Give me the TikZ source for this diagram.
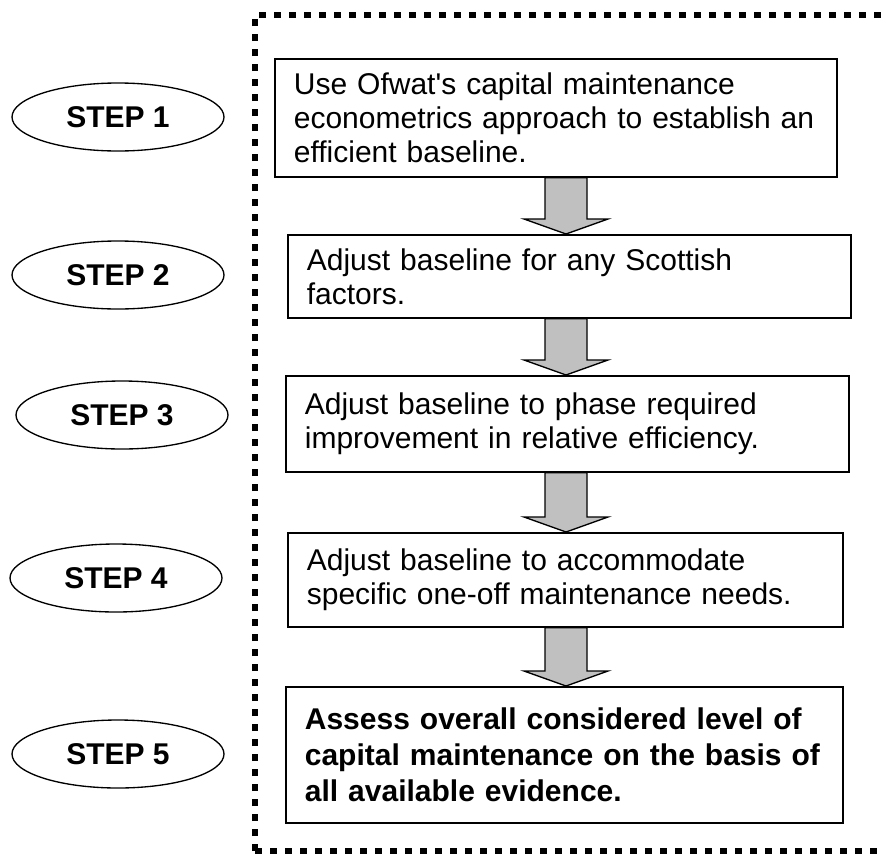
\documentclass[tikz,border=0pt]{standalone}
\usepackage{fontspec}
\setmainfont{Liberation Sans}
\usetikzlibrary{shapes.geometric,calc}

\begin{document}
\begin{tikzpicture}[x=0.75pt, y=-0.75pt,
  stepoval/.style={draw, line width=1pt, ellipse, minimum width=159pt, minimum height=51pt,
    font=\bfseries\fontsize{22.5}{25.5}\selectfont},
  taskbox/.style={draw, line width=1.3pt, anchor=north west, inner xsep=0pt, align=left,
    font=\fontsize{22.5}{25.5}\selectfont},
  downarrow/.style={draw, line width=1pt, fill={rgb,255:red,192;green,192;blue,192}, line join=miter}]
\useasboundingbox (0,0) rectangle (881,857);
\clip (0,0) rectangle (881,857);
% dotted frame round the steps
\draw[line width=4.9pt, dash pattern=on 5.25pt off 6pt] (255,851) -- (255,15) -- (900,15);
\draw[line width=4.9pt, dash pattern=on 5.25pt off 6pt] (255,851) -- (900,851);
% step labels
\node[stepoval] (s1) at (118,117) {STEP 1};
\node[stepoval] (s2) at (118,275) {STEP 2};
\node[stepoval] (s3) at (122,415) {STEP 3};
\node[stepoval] (s4) at (116,578) {STEP 4};
\node[stepoval] (s5) at (118,754) {STEP 5};
% boxes
\node[taskbox, minimum width=421.5pt, minimum height=88.5pt, text width=393pt] (b1) at (274,58)
  {Use Ofwat\textquotesingle s capital maintenance\\econometrics approach to establish an\\efficient baseline.};
\node[taskbox, minimum width=422.25pt, minimum height=62.25pt, text width=393.75pt] (b2) at (287,234)
  {Adjust baseline for any Scottish\\factors.};
\node[taskbox, minimum width=422.25pt, minimum height=72pt, text width=393.75pt] (b3) at (285,375)
  {Adjust baseline to phase required\\improvement in relative efficiency.};
\node[taskbox, minimum width=416.25pt, minimum height=70.5pt, text width=387.75pt] (b4) at (287,532)
  {Adjust baseline to accommodate\\specific one-off maintenance needs.};
\node[taskbox, minimum width=417.75pt, minimum height=102pt, text width=389.25pt,
  font=\bfseries\fontsize{22.5}{27}\selectfont] (b5) at (285,686)
  {Assess overall considered level of\\capital maintenance on the basis of\\all available evidence.};
% block arrows between the boxes
\coordinate (ax) at (566,0);
\foreach \a/\b in {b1/b2, b2/b3, b3/b4, b4/b5}
  \draw[downarrow] ($(\a.south -| ax)+(-21,0)$) -- ($(\b.north -| ax)+(-21,-15)$)
    -- ($(\b.north -| ax)+(-42,-15)$) -- (\b.north -| ax) -- ($(\b.north -| ax)+(42,-15)$)
    -- ($(\b.north -| ax)+(21,-15)$) -- ($(\a.south -| ax)+(21,0)$) -- cycle;
\end{tikzpicture}
\end{document}
